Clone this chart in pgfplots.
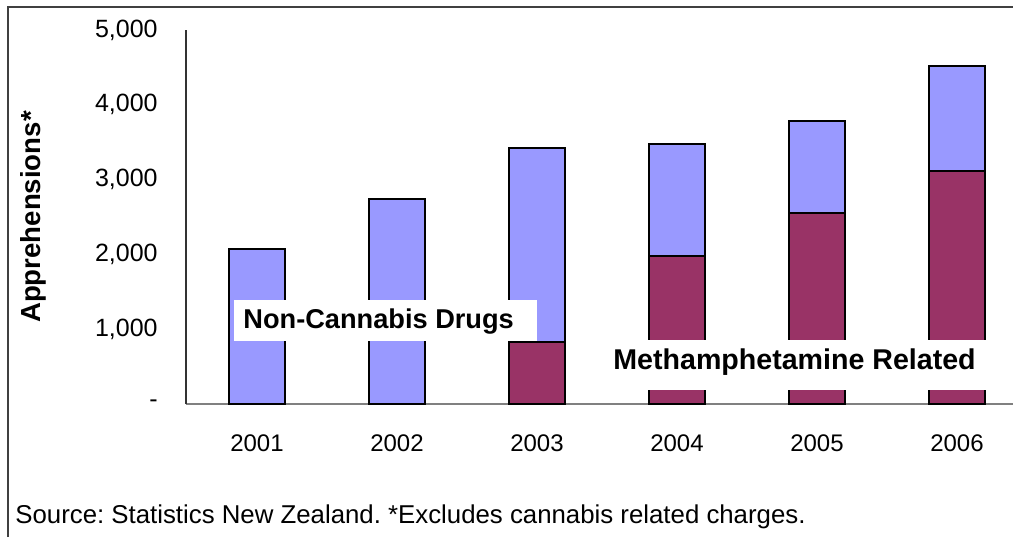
\documentclass[border=0pt]{standalone}
\usepackage{pgfplots}
\pgfplotsset{compat=1.18}
\usepackage{fontspec}
\setmainfont{Liberation Sans}
\frenchspacing
\definecolor{ncblue}{HTML}{9999FF}
\definecolor{meth}{HTML}{993366}
\begin{document}
\begin{tikzpicture}
\useasboundingbox (0pt,0pt) rectangle (506.5pt,-268.5pt);
\draw[line width=1pt, black!75] (4pt,-268.5pt) -- (4pt,-3.5pt) -- (506.5pt,-3.5pt);
\begin{axis}[
  at={(93pt,-202pt)}, anchor=south west,
  scale only axis, width=413.5pt, height=187pt,
  xmin=-0.507, xmax=5.4, ymin=0, ymax=5000,
  axis lines=left, axis line style={-},
  x axis line style={draw=gray, line width=0.8pt},
  y axis line style={draw=black!80, line width=0.6pt},
  major tick length=0pt,
  xtick={0,1,2,3,4,5},
  xticklabels={2001,2002,2003,2004,2005,2006},
  ytick={0,1000,2000,3000,4000,5000},
  yticklabels={{-},{1,000},{2,000},{3,000},{4,000},{5,000}},
  yticklabel style={anchor=east, inner sep=0pt, xshift=-14pt, font=\fontsize{12.5}{14}\selectfont},
  xticklabel style={anchor=center, inner sep=0pt, yshift=-19.5pt, font=\fontsize{12}{14}\selectfont},
  clip=false,
]
\addplot[ybar, bar width=0.4, bar shift=0pt, fill=ncblue, draw=black, line width=1pt]
  coordinates {(0,2070) (1,2740) (2,3420) (3,3475) (4,3780) (5,4520)};
\addplot[ybar, bar width=0.4, bar shift=0pt, fill=meth, draw=black, line width=1pt]
  coordinates {(2,830) (3,1980) (4,2550) (5,3115)};
\fill[white] (axis cs:-0.164,842) rectangle (axis cs:2.0,1390);
\node[anchor=base west, inner sep=0pt, font=\bfseries\fontsize{13.6}{16}\selectfont] at (axis cs:-0.1,1016) {Non-Cannabis Drugs};
\fill[white] (axis cs:2.45,187) rectangle (axis cs:5.27,856);
\node[anchor=base west, inner sep=0pt, font=\bfseries\fontsize{14.3}{16}\selectfont] at (axis cs:2.543,468) {Methamphetamine Related};
\end{axis}
\node[rotate=90, anchor=center, inner sep=0pt, font=\bfseries\fontsize{13.8}{16}\selectfont] at (16.5pt,-108.5pt) {Apprehensions*};
\node[anchor=base west, inner sep=0pt, font=\fontsize{12.9}{14}\selectfont] at (7.5pt,-261.5pt) {Source: Statistics New Zealand. *Excludes cannabis related charges.};
\end{tikzpicture}
\end{document}
